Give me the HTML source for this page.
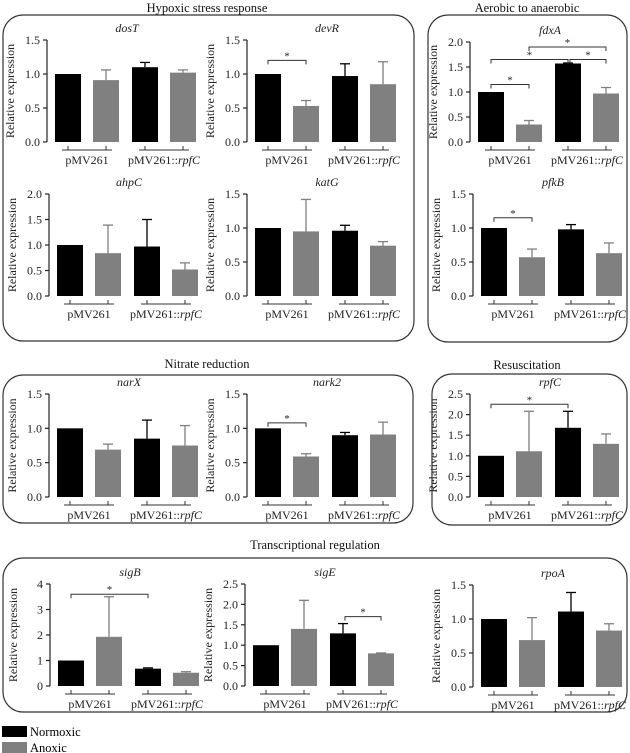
<!DOCTYPE html>
<html><head><meta charset="utf-8">
<style>
html,body{margin:0;padding:0;background:#fff;}
svg{display:block;font-family:"Liberation Serif",serif;}
</style></head>
<body>
<svg id="fig" width="630" height="753" viewBox="0 0 630 753" xmlns="http://www.w3.org/2000/svg">
<g fill="none" stroke="#333" stroke-width="1.2">
<rect x="3" y="15" width="411" height="326" rx="20"/>
<rect x="428" y="15" width="199" height="327" rx="20"/>
<rect x="3" y="375" width="410" height="148" rx="20"/>
<rect x="432" y="374" width="195" height="151" rx="20"/>
<rect x="3" y="558" width="624" height="154" rx="20"/>
</g>
<g font-size="12.5" text-anchor="middle" fill="#111">
<text x="207" y="12">Hypoxic stress response</text>
<text x="527" y="12">Aerobic to anaerobic</text>
<text x="207" y="368">Nitrate reduction</text>
<text x="527" y="369">Resuscitation</text>
<text x="315" y="549">Transcriptional regulation</text>
</g>
<g font-size="12.5">
<rect x="2" y="726" width="25" height="11" fill="#000"/>
<text x="30" y="736">Normoxic</text>
<rect x="2" y="742" width="25" height="11" fill="#808080"/>
<text x="30" y="752">Anoxic</text>
</g>
</svg>
<script>
// Data arrays
const genes = ["dosT","devR","ahpC","katG","fdxA","pfkB","narX","nark2","rpfC","sigB","sigE","rpoA"];
const groupLabels = ["pMV261","pMV261::"];
const dosTVals = [1.00,0.91,1.10,1.02];  const dosTErr = [0,0.15,0.07,0.04];
const devRVals = [1.00,0.53,0.97,0.85];  const devRErr = [0,0.08,0.18,0.33];
const ahpCVals = [1.00,0.84,0.97,0.52];  const ahpCErr = [0,0.55,0.53,0.13];
const katGVals = [1.00,0.95,0.96,0.74];  const katGErr = [0,0.47,0.08,0.06];
const fdxAVals = [1.00,0.35,1.57,0.97];  const fdxAErr = [0,0.08,0.01,0.12];
const pfkBVals = [1.00,0.57,0.98,0.63];  const pfkBErr = [0,0.12,0.07,0.15];
const narXVals = [1.00,0.69,0.85,0.75];  const narXErr = [0,0.08,0.27,0.29];
const nark2Vals = [1.00,0.59,0.90,0.91]; const nark2Err = [0,0.04,0.04,0.18];
const rpfCVals = [1.00,1.11,1.68,1.29];  const rpfCErr = [0,0.97,0.40,0.24];
const sigBVals = [1.00,1.93,0.68,0.52];  const sigBErr = [0,1.57,0.03,0.04];
const sigEVals = [1.00,1.40,1.29,0.80];  const sigEErr = [0,0.70,0.24,0.01];
const rpoAVals = [1.00,0.69,1.11,0.83];  const rpoAErr = [0,0.33,0.28,0.10];
const ticks15 = ["0.0","0.5","1.0","1.5"];
const ticks20 = ["0.0","0.5","1.0","1.5","2.0"];
const ticks25 = ["0.0","0.5","1.0","1.5","2.0","2.5"];
const ticks4 = ["0","1","2","3","4"];
// significance brackets: [barA, barB, level]
const devRSig = [[0,1,1.2]];
const fdxASig = [[0,1,1.15],[0,2,1.65],[2,3,1.65],[1,3,1.9]];
const pfkBSig = [[0,1,1.15]];
const nark2Sig = [[0,1,1.08]];
const rpfCSig = [[0,2,2.25]];
const sigBSig = [[0,2,3.6]];
const sigESig = [[2,3,1.7]];

const NS="http://www.w3.org/2000/svg";
const svg=document.getElementById('fig');
function mk(tag,attrs,parent){const e=document.createElementNS(NS,tag);for(const k in attrs)e.setAttribute(k,attrs[k]);(parent||svg).appendChild(e);return e;}

function chart(name,vals,errs,ticks,sig,ax,yTop,yBot){
  const g=mk('g',{});
  
  
  const ymax=parseFloat(ticks[ticks.length-1]);
  const y=v=>yBot-(v/ymax)*(yBot-yTop);
  const bx=i=>ax+[8,46,85,123][i];
  const bw=26;
  const cx=i=>bx(i)+bw/2;
  // axis
  const axl=mk('line',{x1:ax,y1:yTop,x2:ax,y2:yBot,stroke:'#222','stroke-width':1.2},g);
  
  
  ticks.forEach(t=>{
    const v=parseFloat(t);
    mk('line',{x1:ax-4,y1:y(v),x2:ax,y2:y(v),stroke:'#222','stroke-width':1.2},g);
    const tx=mk('text',{x:ax-7,y:y(v)+4,'font-size':12,'text-anchor':'end',fill:'#222'},g);
    tx.textContent=t;
    
    
  });
  const yl=mk('text',{x:0,y:0,'font-size':12,'text-anchor':'middle',fill:'#222',transform:`translate(${ax-33},${(yTop+yBot)/2}) rotate(-90)`},g);
  yl.textContent='Relative expression';
  
  
  const gl=mk('text',{x:ax+80,y:yTop-8,'font-size':12,'font-style':'italic','text-anchor':'middle',fill:'#222'},g);
  gl.textContent=name;
  
  
  vals.forEach((v,i)=>{
    const col=i%2===0?'#000':'#808080';
    const top=y(v+errs[i]);
    if(errs[i]>0){
      mk('line',{x1:cx(i),y1:y(v),x2:cx(i),y2:top,stroke:col,'stroke-width':1.3},g);
      mk('line',{x1:cx(i)-5,y1:top,x2:cx(i)+5,y2:top,stroke:col,'stroke-width':1.3},g);
    }
    const r=mk('rect',{x:bx(i),y:y(v),width:bw,height:yBot-y(v),fill:col},g);
    
    
  });
  // group brackets
  for(let k=0;k<2;k++){
    const a=cx(2*k),b=cx(2*k+1),yy=yBot+8;
    mk('path',{d:`M${a-6},${yy}H${b+6}M${a},${yy}V${yy-4}M${b},${yy}V${yy-4}`,stroke:'#333','stroke-width':1,fill:'none'},g);
    const t=mk('text',{x:(a+b)/2,y:yBot+22,'font-size':12,'text-anchor':'middle',fill:'#222'},g);
    t.textContent=groupLabels[k];
    if(k===1){const ts=mk('tspan',{'font-style':'italic'},t);ts.textContent='rpfC';}
    
    
  }
  (sig||[]).forEach(s=>{
    const a=cx(s[0])+(s[0]===2&&s[1]===3?2:0),b=cx(s[1]),yy=y(s[2]);
    mk('path',{d:`M${a},${yy+4}V${yy}H${b}V${yy+4}`,stroke:'#333','stroke-width':1,fill:'none'},g);
    const st=mk('text',{x:(a+b)/2,y:yy-1,'font-size':11,'text-anchor':'middle',fill:'#222'},g);
    st.textContent='*';
    
    
  });
}
chart('dosT',dosTVals,dosTErr,ticks15,null,47,40,142);
chart('devR',devRVals,devRErr,ticks15,devRSig,247,40,142);
chart('ahpC',ahpCVals,ahpCErr,ticks20,null,49,194,296);
chart('katG',katGVals,katGErr,ticks15,null,247,194,296);
chart('fdxA',fdxAVals,fdxAErr,ticks20,fdxASig,470,42,142);
chart('pfkB',pfkBVals,pfkBErr,ticks15,pfkBSig,473,194,296);
chart('narX',narXVals,narXErr,ticks15,null,49,394,497);
chart('nark2',nark2Vals,nark2Err,ticks15,nark2Sig,247,394,497);
chart('rpfC',rpfCVals,rpfCErr,ticks25,rpfCSig,470,394,497);
chart('sigB',sigBVals,sigBErr,ticks4,sigBSig,50,584,686);
chart('sigE',sigEVals,sigEErr,ticks25,sigESig,245,584,686);
chart('rpoA',rpoAVals,rpoAErr,ticks15,null,473,585,687);
</script>
</body></html>
